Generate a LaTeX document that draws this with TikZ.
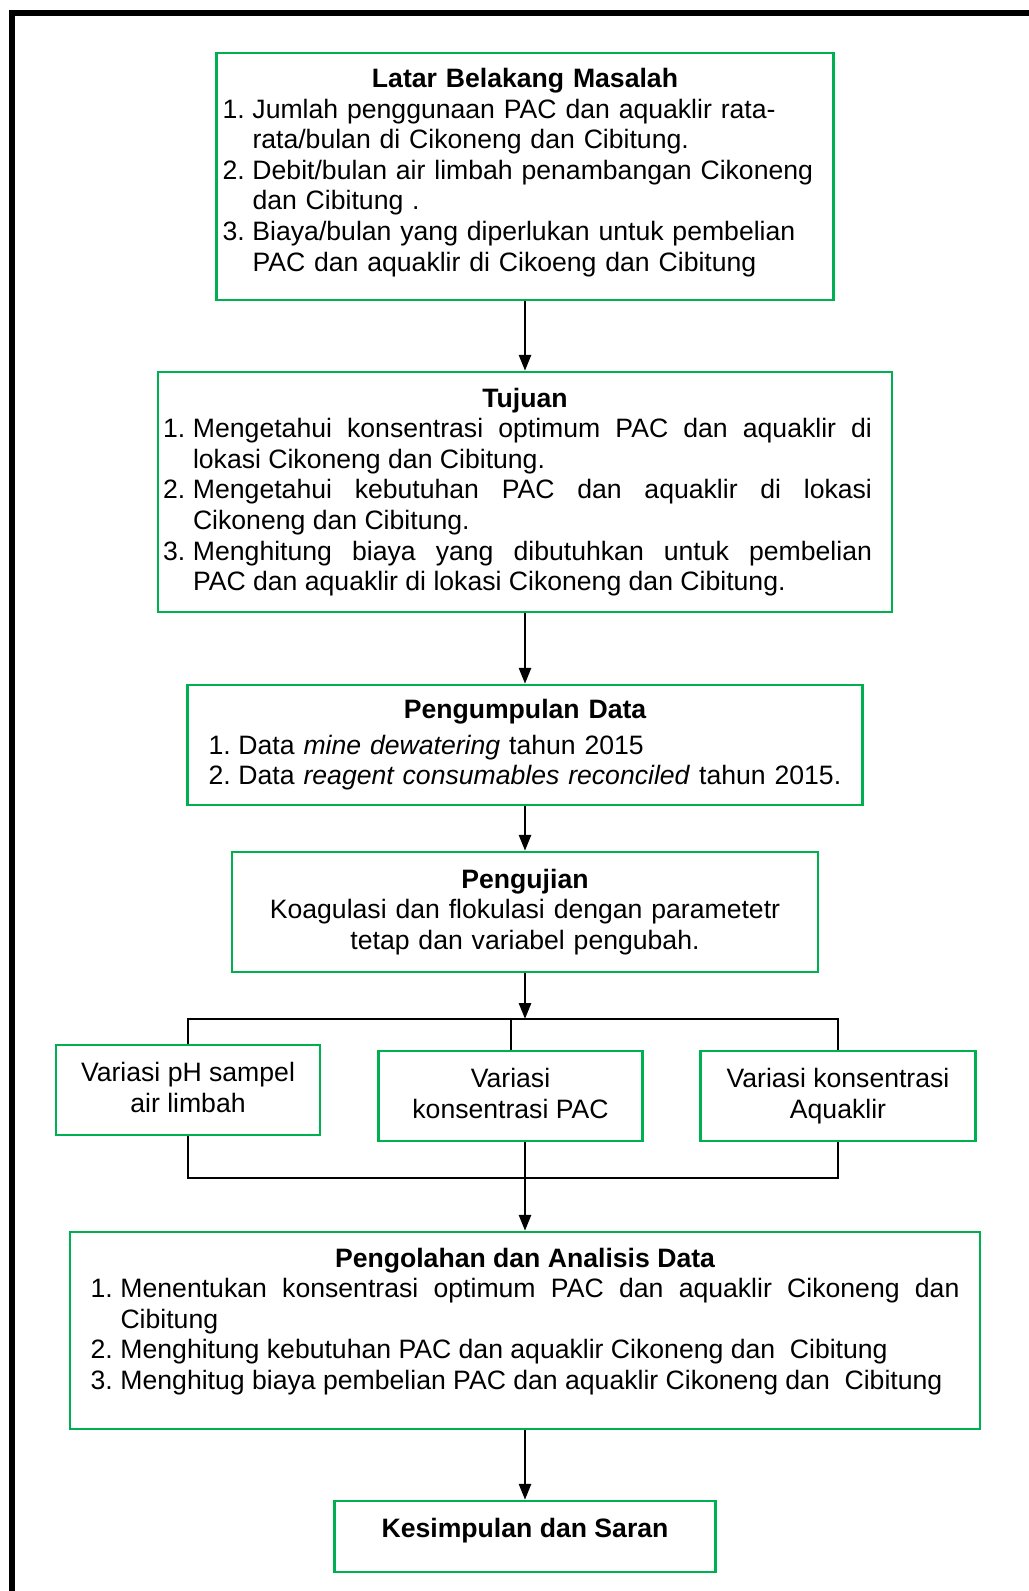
\documentclass[tikz,border=0pt]{standalone}
\usepackage{fontspec}
\setmainfont{Liberation Sans}
\usepackage{xcolor}
\usetikzlibrary{arrows.meta}
\definecolor{stagec}{HTML}{00B050}
\newdimen\px
\px=0.451pt
\tolerance=9999
\hyphenpenalty=10000
\newcommand{\itm}[1]{\par\hangindent=30\px\hangafter=1\noindent\makebox[30\px][l]{#1}}
\newcommand{\padbelow}[1]{\par\hrule height #1 depth 0pt width 0pt}
\tikzset{
  stage/.style={draw=stagec, line width=2.4\px, inner sep=0pt, font=\fontsize{12}{13.8}\selectfont},
  flow/.style={line width=2.8\px, -{Triangle[length=7.2pt,width=5.4pt]}},
  branch/.style={line width=2\px},
  frame/.style={line width=6\px},
}
\begin{document}
\begin{tikzpicture}[x=0.451pt, y=-0.451pt]
\useasboundingbox (0,0) rectangle (1029,1591);
\draw[frame] (1029,12.5) -| (11.5,1591);
\node[stage, minimum width=617\px, minimum height=247\px, text width=605\px, align=left] (lbm) at (525,176.5) {\centerline{\bfseries Latar Belakang Masalah}\itm{1.}Jumlah penggunaan PAC dan aquaklir rata-\newline rata/bulan di Cikoneng dan Cibitung.\itm{2.}Debit/bulan air limbah penambangan Cikoneng\newline dan Cibitung .\itm{3.}Biaya/bulan yang diperlukan untuk pembelian\newline PAC dan aquaklir di Cikoeng dan Cibitung\padbelow{8\px}};
\node[stage, minimum width=734\px, minimum height=240\px, text width=724\px, align=justify] (tuj) at (525,492) {\rightskip=15\px\centerline{\bfseries Tujuan}\itm{1.}Mengetahui konsentrasi optimum PAC dan aquaklir di\linebreak lokasi Cikoneng dan Cibitung.\itm{2.}Mengetahui kebutuhan PAC dan aquaklir di lokasi\linebreak Cikoneng dan Cibitung.\itm{3.}Menghitung biaya yang dibutuhkan untuk pembelian\linebreak PAC dan aquaklir di lokasi Cikoneng dan Cibitung.\par};
\node[stage, minimum width=675\px, minimum height=120\px, text width=633\px, align=left] (pd) at (525,745) {\centerline{\bfseries Pengumpulan Data}\vspace{5\px}\itm{1.}Data \textit{mine dewatering} tahun 2015\itm{2.}Data \textit{reagent consumables reconciled} tahun 2015.\par};
\node[stage, minimum width=586\px, minimum height=120\px, text width=560\px, align=center] (uji) at (525,912) {{\bfseries Pengujian}\\Koagulasi dan flokulasi dengan parametetr\\tetap dan variabel pengubah.};
\node[stage, minimum width=264\px, minimum height=90\px, align=center] (ph) at (188,1090) {Variasi pH sampel\\air limbah\vphantom{g}};
\node[stage, minimum width=264\px, minimum height=90\px, align=center] (pac) at (510.5,1096) {Variasi\\konsentrasi PAC\vphantom{g}};
\node[stage, minimum width=275\px, minimum height=90\px, align=center] (aqk) at (838,1096) {Variasi konsentrasi\\Aquaklir};
\node[stage, minimum width=910\px, minimum height=197\px, text width=869\px, align=justify] (ola) at (525,1330.5) {\centerline{\bfseries Pengolahan dan Analisis Data}\itm{1.}Menentukan konsentrasi optimum PAC dan aquaklir Cikoneng dan\linebreak Cibitung\itm{2.}Menghitung kebutuhan PAC dan aquaklir Cikoneng dan~ Cibitung\itm{3.}Menghitug biaya pembelian PAC dan aquaklir Cikoneng dan~ Cibitung\padbelow{18\px}};
\node[stage, minimum width=381\px, minimum height=71\px, text depth=7.9pt, font=\fontsize{12}{13.8}\selectfont\bfseries] (kes) at (525,1536.5) {Kesimpulan dan Saran};
\coordinate (split) at (525,1019);
\coordinate (merge) at (525,1178);
\draw[flow] (lbm) -- (tuj);
\draw[flow] (tuj) -- (pd);
\draw[flow] (pd) -- (uji);
\draw[flow] (uji) -- (split);
\draw[branch] (ph.north) |- (split) -| (aqk.north);
\draw[branch] (pac.north) -- (pac.north |- split);
\draw[branch] (ph.south) |- (merge) -| (aqk.south);
\draw[flow] (pac.south -| ola.north) -- (ola.north);
\draw[flow] (ola) -- (kes);
\end{tikzpicture}
\end{document}
